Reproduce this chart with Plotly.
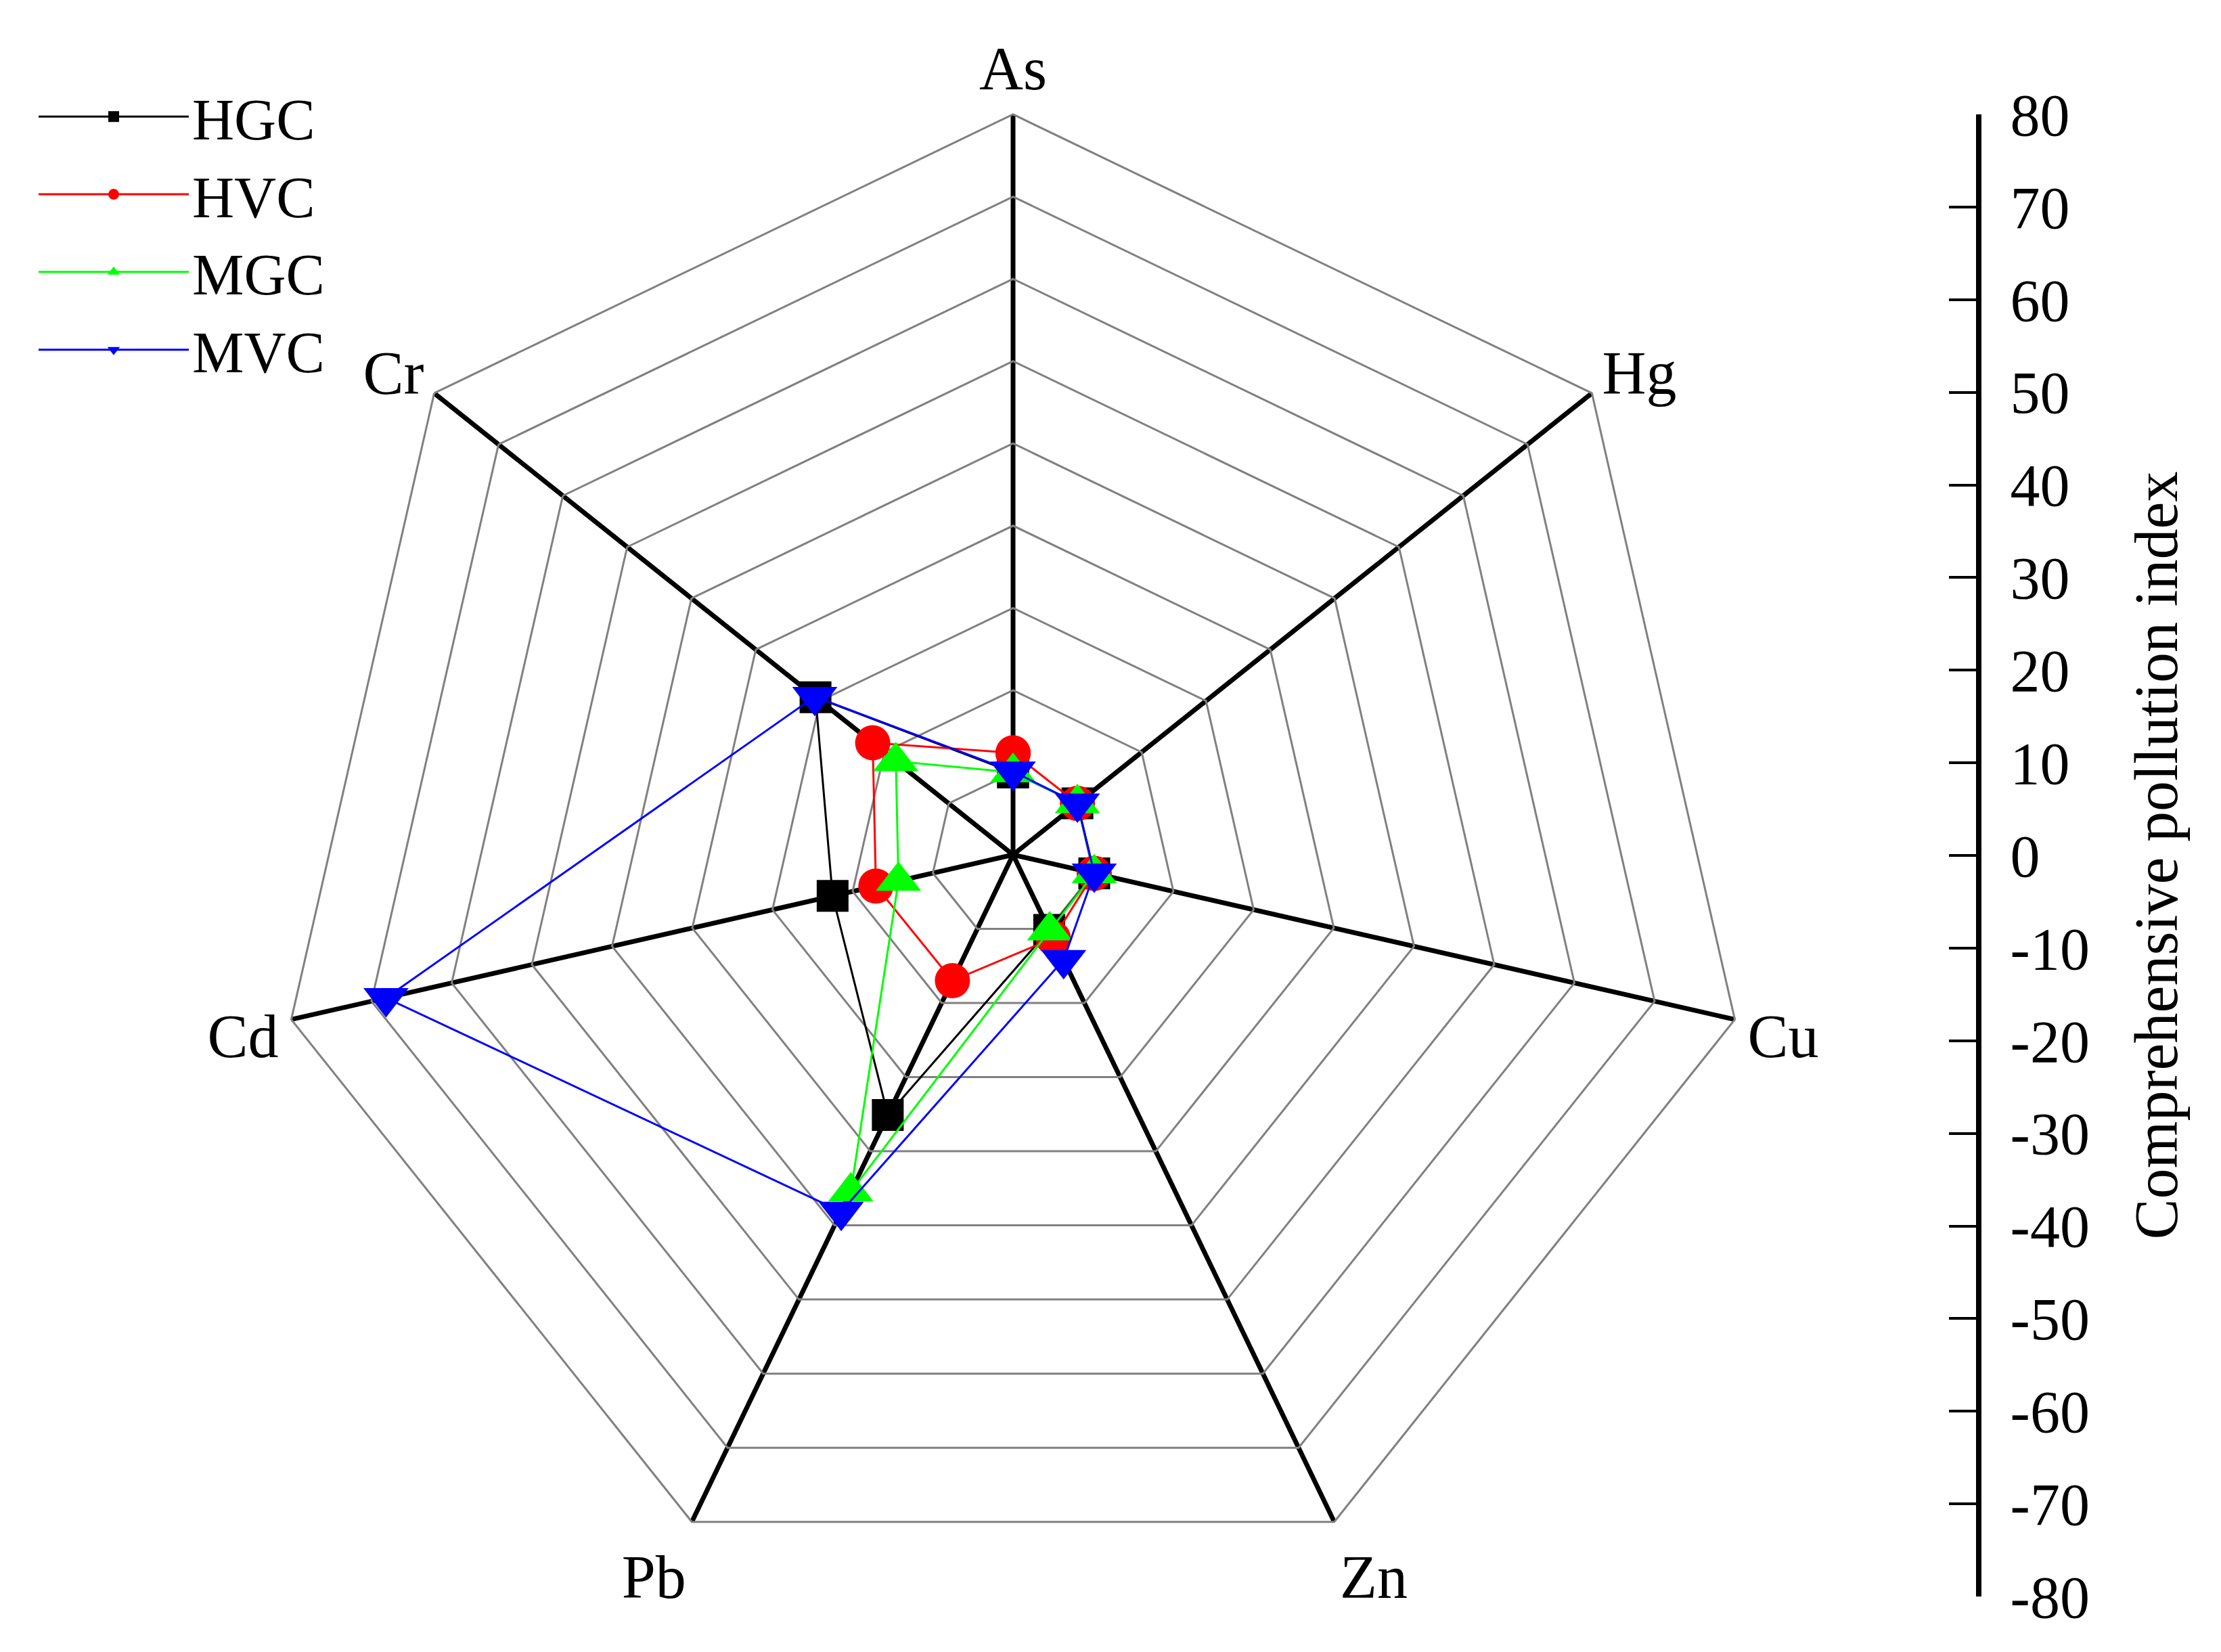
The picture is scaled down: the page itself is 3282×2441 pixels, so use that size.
import plotly.graph_objects as go

# ---------------- data ----------------
elements = ["As", "Hg", "Cu", "Zn", "Pb", "Cd", "Cr"]
series_names = ["HGC", "HVC", "MGC", "MVC"]
hgc = [8.9, 8.9, 9.0, 9.0, 31.2, 20.0, 27.3]
hvc = [11.0, 8.9, 9.0, 10.0, 15.1, 15.2, 19.4]
mgc = [8.9, 8.9, 9.0, 9.1, 40.4, 12.7, 16.2]
mvc = [9.0, 8.9, 9.0, 12.6, 42.8, 69.5, 27.4]
index_ticks = [80, 70, 60, 50, 40, 30, 20, 10, 0, -10, -20, -30, -40, -50, -60, -70, -80]
index_tick_labels = ["80", "70", "60", "50", "40", "30", "20", "10", "0", "-10", "-20",
                     "-30", "-40", "-50", "-60", "-70", "-80"]
axis_title = "Comprehensive pollution index"

# ---------------- styles ----------------
W, H = 3282, 2441
FONT = "Liberation Serif, Times New Roman, serif"
colors = ["#000000", "#ff0000", "#00ff00", "#0000ff"]
symbols = ["square", "circle", "triangle-up", "triangle-down"]
sizes = [47, 52, 58, 58]

cx, cy, R = 1497, 1263, 1094  # radar centre / radius in px

fig = go.Figure()
for name, vals, col, sym, sz in zip(series_names, [hgc, hvc, mgc, mvc], colors, symbols, sizes):
    fig.add_trace(go.Scatterpolar(
        r=vals + [vals[0]],
        theta=elements + [elements[0]],
        mode="lines+markers",
        name=name,
        line=dict(color=col, width=3),
        marker=dict(symbol=sym, size=sz, color=col, line=dict(width=0)),
    ))

# dummy trace so that the stand-alone index axis is drawn
fig.add_trace(go.Scatter(x=[None], y=[None], xaxis="x", yaxis="y",
                         showlegend=False, hoverinfo="skip"))

fig.update_layout(
    width=W, height=H,
    margin=dict(l=0, r=0, t=0, b=0, pad=0),
    paper_bgcolor="white",
    plot_bgcolor="rgba(0,0,0,0)",
    font=dict(family=FONT, color="black", size=88),
    polar=dict(
        domain=dict(x=[(cx - R) / W, (cx + R) / W],
                    y=[(H - cy - R) / H, (H - cy + R) / H]),
        gridshape="linear",
        bgcolor="rgba(0,0,0,0)",
        radialaxis=dict(range=[0, 80], tick0=0, dtick=80 / 9,
                        showticklabels=False, ticks="", showline=False,
                        gridcolor="#808080", gridwidth=3, layer="below traces"),
        angularaxis=dict(direction="clockwise", rotation=90,
                         gridcolor="black", gridwidth=6.5,
                         showline=True, linecolor="#808080", linewidth=3,
                         ticks="", layer="below traces",
                         tickfont=dict(family=FONT, size=90, color="black")),
    ),
    xaxis=dict(domain=[0.88, 2920 / W], range=[0, 1], visible=False, fixedrange=True),
    yaxis=dict(anchor="x", side="right",
               domain=[(H - 2359) / H, (H - 169) / H],
               range=[-80, 80],
               tickmode="array", tickvals=index_ticks, ticktext=index_tick_labels,
               ticks="inside", ticklen=40, tickwidth=4, tickcolor="black",
               ticklabelstandoff=25,
               showline=True, linewidth=8, linecolor="black",
               showgrid=False, zeroline=False, automargin=False,
               tickfont=dict(family=FONT, size=88, color="black"),
               title=dict(text=axis_title, standoff=70,
                          font=dict(family=FONT, size=90, color="black"))),
    legend=dict(x=52 / W, y=0.955, xanchor="left", yanchor="top",
                font=dict(family=FONT, size=86, color="black"),
                itemwidth=222, bgcolor="rgba(0,0,0,0)", borderwidth=0,
                tracegroupgap=0),
    showlegend=True,
)

fig.write_html("out.html", config={"displayModeBar": False},
               post_script="document.body.style.margin='0px';")
